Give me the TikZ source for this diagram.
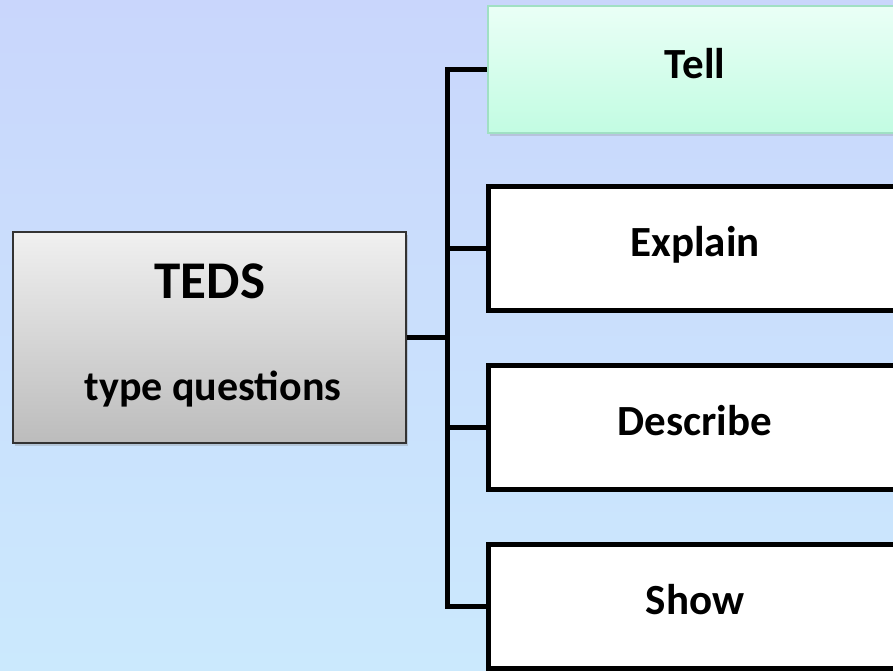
\documentclass[tikz,border=0pt]{standalone}
\usepackage{fontspec}
\setmainfont{Carlito}
\usetikzlibrary{shadows}
\definecolor{bgtop}{RGB}{201,214,252}
\definecolor{bgbot}{RGB}{203,233,253}
\definecolor{tellTop}{RGB}{234,255,246}
\definecolor{tellBot}{RGB}{194,252,226}
\definecolor{tellLine}{RGB}{160,224,196}
\definecolor{grayTop}{RGB}{240,240,240}
\definecolor{grayBot}{RGB}{188,188,188}
\tikzset{
  conn/.style={line width=5pt, line join=miter, line cap=rect},
  leafbox/.style={rectangle, draw=black, line width=5pt, fill=white,
    minimum width=414pt, minimum height=124pt, inner sep=0pt,
    font=\fontsize{43}{43}\selectfont\bfseries, text height=28pt, text depth=11pt},
  tellbox/.style={leafbox, draw=tellLine, line width=1.5pt, top color=tellTop, bottom color=tellBot,
    minimum height=127pt,
    drop shadow={opacity=0.25, shadow xshift=2pt, shadow yshift=-3pt}},
  rootbox/.style={rectangle, draw=black!80, line width=1.3pt, top color=grayTop, bottom color=grayBot,
    minimum width=393pt, minimum height=211pt, inner sep=0pt,
    drop shadow={opacity=0.3, shadow xshift=2pt, shadow yshift=-3pt}},
  roottext/.style={anchor=base, inner sep=0pt, font=\bfseries}
}
\begin{document}
\begin{tikzpicture}[x=1pt,y=-1pt]
  \useasboundingbox (0,0) rectangle (893,670);
  \clip (0,0) rectangle (893,670);
  \shade[top color=bgtop, bottom color=bgbot] (0,0) rectangle (893,670);
  % root
  \node[rootbox] (teds) at (209.5,337.5) {};
  \node[roottext, font=\fontsize{53}{53}\selectfont\bfseries] (tedsT) at (210,298) {TEDS};
  \node[roottext, font=\fontsize{42}{42}\selectfont\bfseries] (tedsQ) at (213,400) {type questions};
  % leaves
  \node[tellbox] (tell) at (695,69.5) {Tell};
  \node[leafbox] (explain) at (695,248) {Explain};
  \node[leafbox] (describe) at (695,427) {Describe};
  \node[leafbox] (show) at (695,606) {Show};
  % connectors
  \coordinate (bus) at (447,0);
  \draw[conn] (tell.west -| bus) -- (show.west -| bus);
  \draw[conn, line cap=butt] (teds.east) -- (teds.east -| bus);
  \draw[conn, line cap=butt] (tell.west -| bus) -- (tell.west);
  \draw[conn, line cap=butt] (explain.west -| bus) -- (explain.west);
  \draw[conn, line cap=butt] (describe.west -| bus) -- (describe.west);
  \draw[conn, line cap=butt] (show.west -| bus) -- (show.west);
\end{tikzpicture}
\end{document}
